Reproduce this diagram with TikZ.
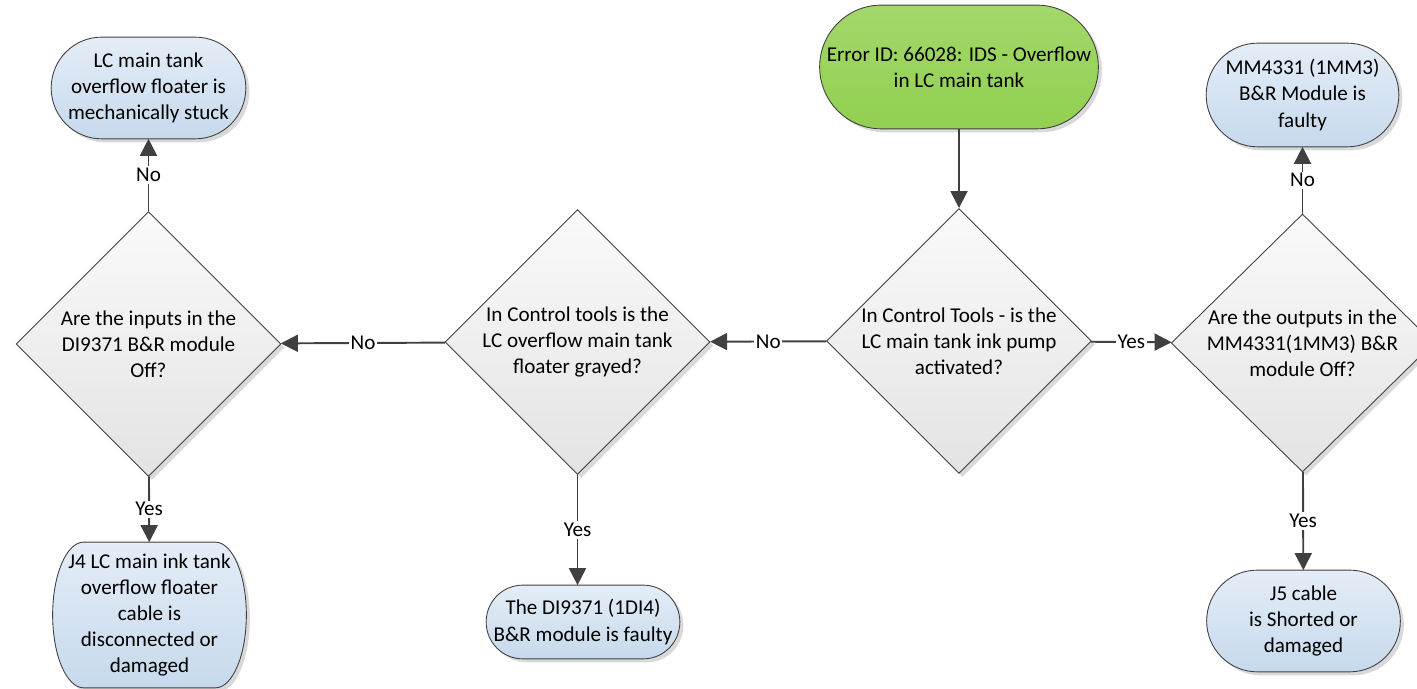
\documentclass[tikz,border=0pt]{standalone}
\usepackage{fontspec}
\setmainfont{Carlito}
\usetikzlibrary{positioning, calc, shapes.geometric, arrows.meta, shadows, backgrounds}

\definecolor{boxtop}{HTML}{E4EDF7}
\definecolor{boxbot}{HTML}{C6D9EC}
\definecolor{startgreen}{HTML}{92D050}
\definecolor{linegray}{HTML}{404040}

% outline of a terminator round a named node: name, x radius of the ends, style
\newcommand{\termshape}[3]{%
	\path[#3] let \p1=(#1.north east), \p2=(#1.south west), \n1={(\y1-\y2)/2} in
		(\x2+#2,\y1) -- (\x1-#2,\y1)
		arc[start angle=90, end angle=-90, x radius=#2, y radius={\n1*1pt}]
		-- (\x2+#2,\y2)
		arc[start angle=270, end angle=90, x radius=#2, y radius={\n1*1pt}] -- cycle;}

\begin{document}
\begin{tikzpicture}[
	font=\fontsize{12}{14.8}\selectfont,
	shadowed/.style={drop shadow={shadow xshift=0.07cm, shadow yshift=-0.07cm, fill=black!15, opacity=1}},
	term/.style={align=center, inner sep=0pt},
	decision/.style={diamond, draw=black!75, line width=0.5pt, top color=black!2, bottom color=black!11, minimum width=5.3cm, minimum height=5.3cm, inner sep=0pt, align=center, shadowed},
	bluebox/.style={draw=black!75, line width=0.5pt, top color=boxtop, bottom color=boxbot, shadowed},
	greenbox/.style={draw=black!75, line width=0.5pt, top color=startgreen!85!white, bottom color=startgreen, shadowed},
	flow/.style={draw=linegray, line width=1.1pt, -{Triangle[length=0.34cm, width=0.34cm]}},
	lbl/.style={fill=white, inner sep=1pt}
]
	\useasboundingbox (0, 0) rectangle (28.34, 13.78);

	% terminators
	\node[term, minimum width=5.56cm, minimum height=2.46cm] (err) at (19.18, 12.44) {Error ID: 66028: IDS - Overflow\\in LC main tank};
	\node[term, minimum width=3.88cm, minimum height=2.02cm] (stuck) at (2.97, 12.02) {LC main tank\\overflow floater is\\mechanically stuck};
	\node[term, minimum width=3.84cm, minimum height=2.06cm] (mmfault) at (26.05, 11.88) {MM4331 (1MM3)\\B\&R Module is\\faulty};
	\node[term, minimum width=3.86cm, minimum height=2.90cm] (jfour) at (2.99, 1.48) {J4 LC main ink tank\\overflow floater\\cable is\\disconnected or\\damaged};
	\node[term, minimum width=3.86cm, minimum height=1.46cm] (difault) at (11.66, 1.34) {The DI9371 (1DI4)\\B\&R module is faulty};
	\node[term, minimum width=3.86cm, minimum height=2.02cm] (jfive) at (26.07, 1.36) {J5 cable\\is Shorted or\\damaged};

	% decisions
	\node[decision] (pump) at (19.18, 6.96) {In Control Tools - is the\\LC main tank ink pump\\activated?};
	\node[decision, minimum height=5.15cm, minimum width=5.25cm] (outputs) at (26.05, 6.92) {Are the outputs in the\\MM4331(1MM3) B\&R\\module Off?};
	\node[decision] (grayed) at (11.55, 6.94) {In Control tools is the\\LC overflow main tank\\floater grayed?};
	\node[decision] (inputs) at (2.97, 6.9) {Are the inputs in the\\DI9371 B\&R module\\Off?};

	\begin{scope}[on background layer]
		\termshape{err}{1.23cm}{greenbox}
		\termshape{stuck}{1.01cm}{bluebox}
		\termshape{mmfault}{1.03cm}{bluebox}
		\termshape{jfour}{0.62cm}{bluebox}
		\termshape{difault}{0.73cm}{bluebox}
		\termshape{jfive}{1.01cm}{bluebox}
	\end{scope}

	% connectors
	\draw[flow] (err) -- (pump);
	\draw[flow] (pump) -- node[lbl] {No} (grayed);
	\draw[flow] (pump) -- node[lbl] {Yes} (outputs);
	\draw[flow] (grayed) -- node[lbl] {No} (inputs);
	\draw[flow] (inputs) -- node[lbl] {No} (stuck);
	\draw[flow] (inputs) -- node[lbl] {Yes} (jfour);
	\draw[flow] (grayed.south) -- node[lbl] {Yes} (grayed.south |- difault.north);
	\draw[flow] (outputs) -- node[lbl] {No} (mmfault);
	\draw[flow] (outputs) -- node[lbl] {Yes} (jfive);
\end{tikzpicture}
\end{document}
